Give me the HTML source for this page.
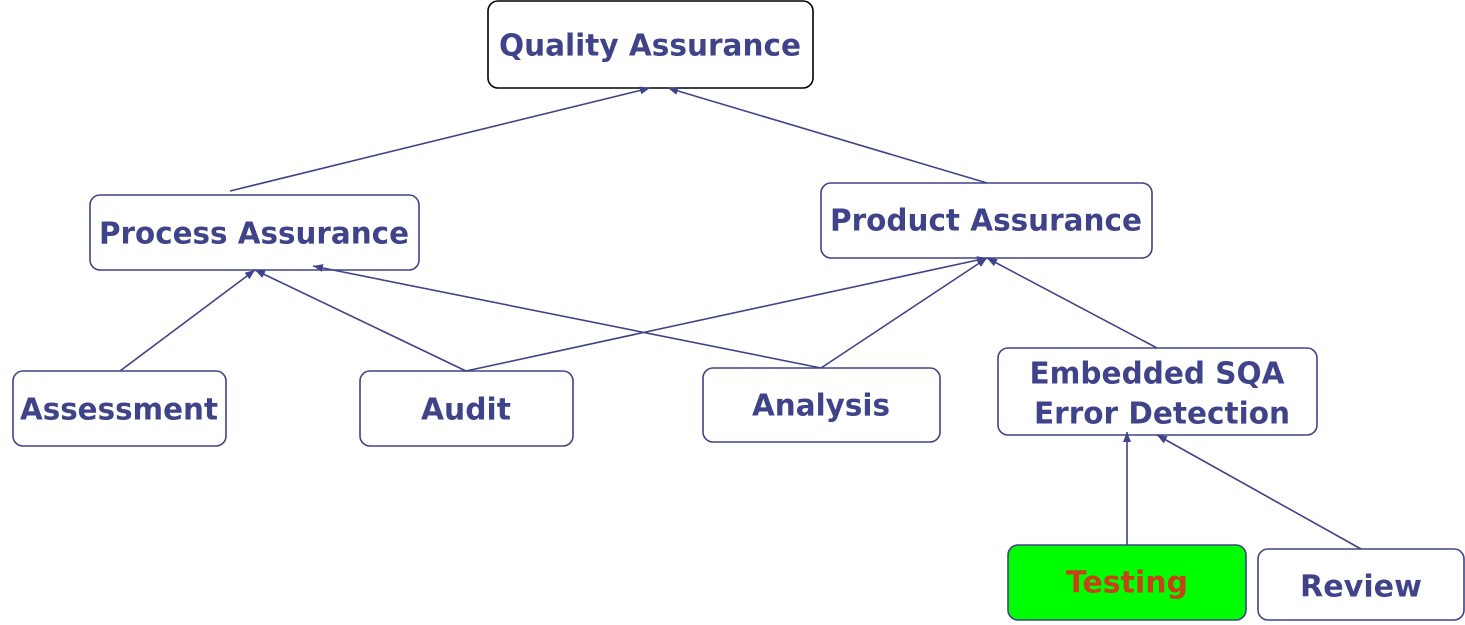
<!DOCTYPE html>
<html><head><meta charset="utf-8"><style>
html,body{margin:0;padding:0;background:#fff;}
svg{display:block}
text{font-family:"DejaVu Sans","Liberation Sans",sans-serif;font-weight:bold;font-size:30px;fill:#3f4389;text-anchor:middle;dominant-baseline:central}
</style></head><body>
<svg width="1465" height="625" viewBox="0 0 1465 625">
<defs><marker id="a" viewBox="0 0 10 10" refX="10" refY="5" markerWidth="10" markerHeight="10" markerUnits="userSpaceOnUse" orient="auto"><path d="M0,1L10,5L0,9z" fill="#3f4389"/></marker></defs>
<g stroke="#3f4389" stroke-width="1.6" fill="#fff">
<rect x="488" y="1" width="325" height="87" rx="10" stroke="#000"/>
<rect x="90" y="195" width="329" height="75" rx="10"/>
<rect x="821" y="183" width="331" height="75" rx="10"/>
<rect x="13" y="371" width="213" height="75" rx="10"/>
<rect x="360" y="371" width="213" height="75" rx="10"/>
<rect x="703" y="368" width="237" height="74" rx="10"/>
<rect x="998" y="348" width="319" height="87" rx="10"/>
<rect x="1008" y="545" width="238" height="75" rx="10" fill="#00ff00"/>
<rect x="1258" y="549" width="206" height="71" rx="10"/>
</g>
<g stroke="#3f4389" stroke-width="1.6" fill="none" marker-end="url(#a)">
<line x1="230" y1="191" x2="650" y2="88"/>
<line x1="987" y1="183" x2="668" y2="88"/>
<line x1="120" y1="371" x2="255" y2="270"/>
<line x1="466" y1="371" x2="255" y2="270"/>
<line x1="821" y1="368" x2="313" y2="266"/>
<line x1="466" y1="371" x2="987" y2="258"/>
<line x1="821" y1="368" x2="987" y2="258"/>
<line x1="1157" y1="348" x2="987" y2="258"/>
<line x1="1127" y1="545" x2="1127" y2="432"/>
<line x1="1361" y1="549" x2="1157" y2="435"/>
</g>
<text x="650" y="46" textLength="302" lengthAdjust="spacingAndGlyphs">Quality Assurance</text>
<text x="254" y="234" textLength="310" lengthAdjust="spacingAndGlyphs">Process Assurance</text>
<text x="986" y="221" textLength="312" lengthAdjust="spacingAndGlyphs">Product Assurance</text>
<text x="119" y="410" textLength="198" lengthAdjust="spacingAndGlyphs">Assessment</text>
<text x="466" y="410" textLength="90" lengthAdjust="spacingAndGlyphs">Audit</text>
<text x="821" y="406" textLength="138" lengthAdjust="spacingAndGlyphs">Analysis</text>
<text x="1157" y="374" textLength="255" lengthAdjust="spacingAndGlyphs">Embedded SQA</text>
<text x="1162" y="414" textLength="256" lengthAdjust="spacingAndGlyphs">Error Detection</text>
<text x="1127" y="583" textLength="122" lengthAdjust="spacingAndGlyphs" style="fill:#c8401a">Testing</text>
<text x="1361" y="587" textLength="122" lengthAdjust="spacingAndGlyphs">Review</text>
</svg>
</body></html>
